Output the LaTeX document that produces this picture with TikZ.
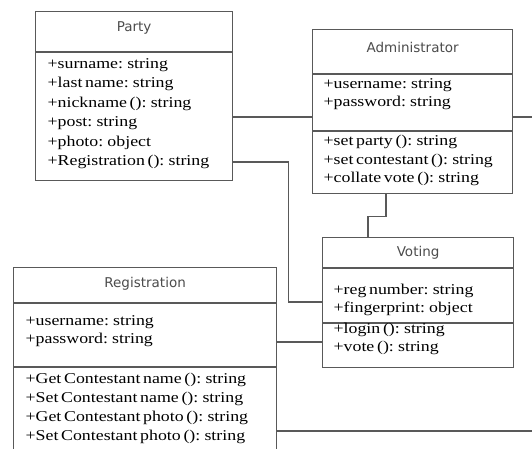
\documentclass[tikz,border=0pt]{standalone}
\usepackage{fontspec}
\usepackage{tikz}
\usetikzlibrary{positioning}
\newfontfamily\umlserif[FakeStretch=1.19,WordSpace=0.6]{Liberation Serif}
\newfontfamily\umlsans{DejaVu Sans}
\definecolor{cline}{rgb}{0.35,0.35,0.35}
\definecolor{ctitle}{rgb}{0.3,0.3,0.3}

\begin{document}
\begin{tikzpicture}[x=1pt,y=-1pt,line width=1.2pt,
  class box/.style={rectangle,draw=cline,inner sep=0pt,anchor=north west},
  title node/.style={inner sep=0pt,text=ctitle,font=\umlsans\fontsize{13.5}{16}\selectfont},
  member node/.style={anchor=west,inner sep=0pt,font=\umlserif\fontsize{15}{18}\selectfont},
  link/.style={draw=cline}]
  \fill[white] (0,0) rectangle (532,448);
  \useasboundingbox (0,0) rectangle (532,448);

  % class boxes
  \node[class box,minimum width=197pt,minimum height=169pt] (party) at (35,11) {};
  \node[class box,minimum width=200pt,minimum height=164pt] (admin) at (312,29) {};
  \node[class box,minimum width=191pt,minimum height=130pt] (voting) at (322,237) {};
  \node[class box,minimum width=263pt,minimum height=200pt] (reg) at (13,267) {};

  % compartments
  \draw[link] (party.west |- 0,52) -- (party.east |- 0,52);
  \draw[link] (admin.west |- 0,74) -- (admin.east |- 0,74);
  \draw[link] (admin.west |- 0,131) -- (admin.east |- 0,131);
  \draw[link] (voting.west |- 0,268) -- (voting.east |- 0,268);
  \draw[link] (voting.west |- 0,323) -- (voting.east |- 0,323);
  \draw[link] (reg.west |- 0,303) -- (reg.east |- 0,303);
  \draw[link] (reg.west |- 0,367) -- (reg.east |- 0,367);

  % titles
  \node[title node] (pt) at ([yshift=-17pt]party.north) {Party};
  \node[title node] (at) at ([yshift=-18pt]admin.north) {Administrator};
  \node[title node] (vt) at ([yshift=-16pt]voting.north) {Voting};
  \node[title node] (rt) at ([yshift=-17pt]reg.north) {Registration};

  % members
  \foreach \t [count=\i] in {+surname: string, +last name: string, +nickname (): string,
      +post: string, +photo: object, +Registration (): string}
    \node[member node] (p\i) at (47,{65+19.4*(\i-1)}) {\t};
  \foreach \t [count=\i] in {+username: string, +password: string}
    \node[member node] (a\i) at (323,{85+17.5*(\i-1)}) {\t};
  \foreach \t [count=\i] in {+set party (): string, +set contestant (): string, +collate vote (): string}
    \node[member node] (m\i) at (323,{142+18.5*(\i-1)}) {\t};
  \foreach \t [count=\i] in {+reg number: string, +fingerprint: object}
    \node[member node] (v\i) at (333,{291+17.5*(\i-1)}) {\t};
  \foreach \t [count=\i] in {+login (): string, +vote (): string}
    \node[member node] (w\i) at (333,{330+18*(\i-1)}) {\t};
  \foreach \t [count=\i] in {+username: string, +password: string}
    \node[member node] (r\i) at (25,{322+18*(\i-1)}) {\t};
  \foreach \t [count=\i] in {+Get Contestant name (): string, +Set Contestant name (): string,
      +Get Contestant photo (): string, +Set Contestant photo (): string}
    \node[member node] (s\i) at (25,{380+19*(\i-1)}) {\t};

  % associations
  \draw[link] (party.east |- 0,117) -- (admin.west |- 0,117);
  \draw[link] (party.east |- p6) -- ++(55,0) |- (voting.west |- 0,302);
  \draw[link] (admin.south -| 386,0) -- ++(0,22) -| (voting.north -| 368,0);
  \draw[link] (admin.east |- 0,117) -- ++(19,0) |- (reg.east |- 0,431);
  \draw[link] (reg.east |- 0,342) -- (voting.west |- 0,342);
\end{tikzpicture}
\end{document}
